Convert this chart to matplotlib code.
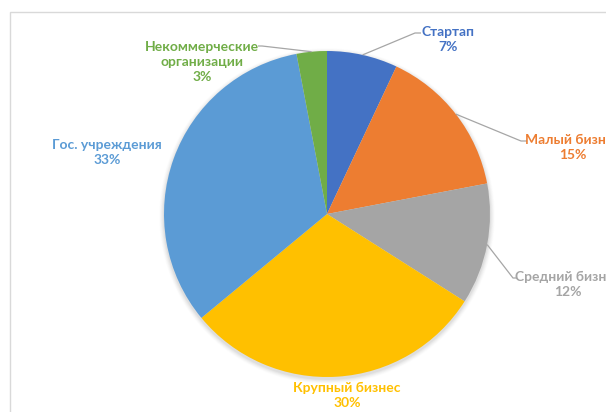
import numpy as np
import matplotlib
matplotlib.use("Agg")
import matplotlib.pyplot as plt
from matplotlib.patches import Circle, Rectangle

# Segment names, shares (%) and colours
categories = ["Стартап", "Малый бизнес", "Средний бизнес",
              "Крупный бизнес", "Гос. учреждения", "Некоммерческие\nорганизации"]
shares = [7, 15, 12, 30, 33, 3]
colors = ["#4472C4", "#ED7D31", "#A5A5A5", "#FFC000", "#5B9BD5", "#70AD47"]
text_colors = ["#4472C4", "#ED7D31", "#A5A5A5", "#FFC000", "#5B9BD5", "#70AD47"]

W, H = 606, 412
fig = plt.figure(figsize=(W / 100, H / 100), dpi=100)
ax = fig.add_axes([0, 0, 1, 1])
ax.set_xlim(0, W)
ax.set_ylim(0, H)
ax.set_aspect("equal")
ax.axis("off")

# chart-area frame
ax.add_patch(Rectangle((10, -20), W + 40, H - 12 + 20, fill=False,
                       edgecolor="#D9D9D9", linewidth=1.0, zorder=0))

cx, cy, R = 327, H - 214, 163

# soft shadow behind the pie
for k, a in zip(range(6, 0, -1), [0.02, 0.03, 0.04, 0.05, 0.06, 0.08]):
    ax.add_patch(Circle((cx, cy - 2), R + k * 0.8, color="#808080",
                        alpha=a, linewidth=0, zorder=1))

wedges, _ = ax.pie(shares, colors=colors, startangle=90, counterclock=False,
                   center=(cx, cy), radius=R, frame=True,
                   wedgeprops=dict(linewidth=0, zorder=2))
ax.set_xlim(0, W)
ax.set_ylim(0, H)
ax.axis("off")

# label anchors (centre of the text block, pixel units from top-left)
label_pos = [(448, 39), (573, 147), (568, 284), (347, 395), (107, 152), (202, 62)]
# leader elbows: (elbow point, end point) or None
leaders = [((415, 33), (421, 33)),
           ((521, 141), (527, 141)),
           ((513, 278), (517, 278)),
           None,
           None,
           ((262, 46), (258, 46))]

font = dict(family=["Lato", "DejaVu Sans"], fontsize=10, fontweight="bold")

for w, name, val, tc, (lx, ly), ld in zip(wedges, categories, shares,
                                          text_colors, label_pos, leaders):
    txt = f"{name}\n{val}%"
    ax.text(lx, H - ly, txt, color=tc, ha="center", va="center",
            linespacing=1.3, zorder=5, **font)
    if ld is not None:
        mid = np.deg2rad((w.theta1 + w.theta2) / 2)
        sx, sy = cx + R * np.cos(mid), cy + R * np.sin(mid)
        (ex, ey), (fx, fy) = ld
        ax.plot([sx, ex, fx], [sy, H - ey, H - fy], color="#A6A6A6",
                linewidth=0.9, zorder=4, solid_capstyle="butt")

fig.savefig("out.png", dpi=100)
